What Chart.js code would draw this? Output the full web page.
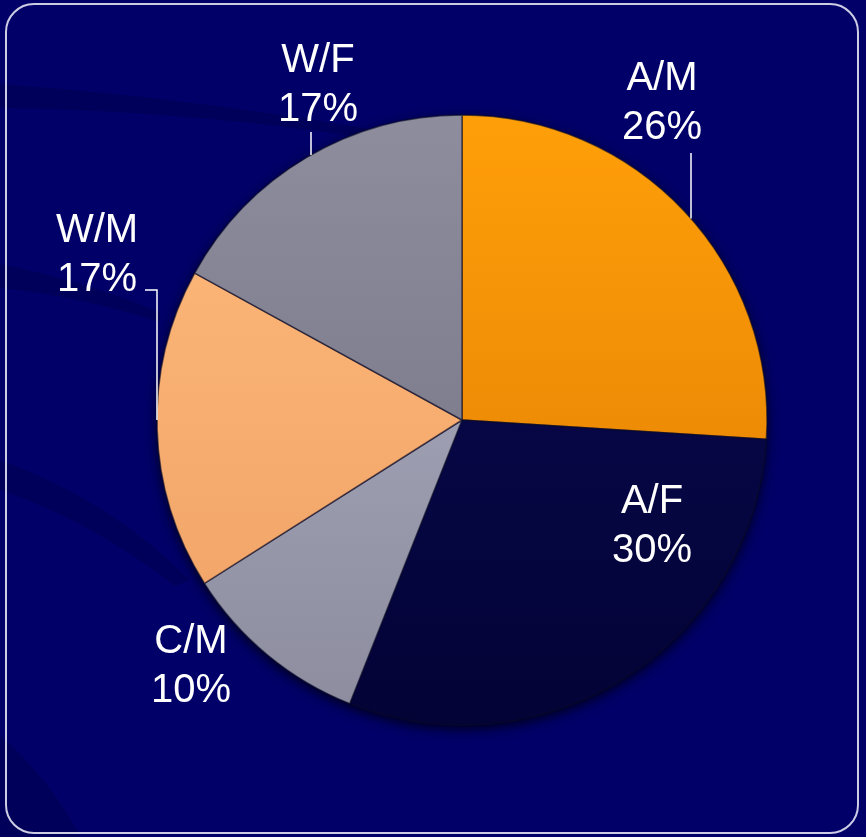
<!DOCTYPE html>
<html>
<head>
    <title>Pie</title>
    <script src="https://cdn.jsdelivr.net/npm/chart.js"></script>
    <style>
        html, body { margin: 0; padding: 0; background: #000066; }
        #pieChart { display: block; }
    </style>
</head>
<body>
    <canvas id="pieChart" width="866" height="837"></canvas>

    <script>
        // data
        const categories = ['A/M', 'A/F', 'C/M', 'W/M', 'W/F'];
        const shares = [26, 30, 10, 17, 17];
        const pctLabels = ['26%', '30%', '10%', '17%', '17%'];

        // slice colours, top and bottom of gradient
        const topColors = ['#ff9f08', '#0a0a55', '#b0b0c6', '#ffbb7c', '#8d8d9e'];
        const bottomColors = ['#de7a04', '#030336', '#8c8c9e', '#efa064', '#70707f'];

        // label placement relative to pie centre (first line baseline)
        const labelPos = [
            {dx: 200, dy: -330, leader: [[229, -267]]},
            {dx: 190, dy: 93},
            {dx: -271, dy: 233},
            {dx: -365, dy: -178, leader: [[-317, -130], [-305, -130]]},
            {dx: -144, dy: -348, leader: [[-151, -288]]}
        ];

        const bgPlugin = {
            id: 'bg',
            beforeDraw(chart) {
                const ctx = chart.ctx;
                const w = chart.width, h = chart.height;
                ctx.save();
                ctx.fillStyle = '#000068';
                ctx.fillRect(0, 0, w, h);

                // faint darker swooshes on the left
                ctx.fillStyle = 'rgba(0, 0, 40, 0.22)';
                ctx.beginPath();
                ctx.moveTo(0, 84);
                ctx.quadraticCurveTo(200, 98, 420, 138);
                ctx.lineTo(420, 146);
                ctx.quadraticCurveTo(200, 110, 0, 108);
                ctx.closePath();
                ctx.fill();

                ctx.beginPath();
                ctx.moveTo(0, 264);
                ctx.quadraticCurveTo(80, 280, 160, 312);
                ctx.lineTo(160, 322);
                ctx.quadraticCurveTo(80, 296, 0, 288);
                ctx.closePath();
                ctx.fill();

                ctx.beginPath();
                ctx.moveTo(0, 460);
                ctx.quadraticCurveTo(110, 500, 190, 580);
                ctx.lineTo(175, 586);
                ctx.quadraticCurveTo(90, 520, 0, 490);
                ctx.closePath();
                ctx.fill();

                ctx.beginPath();
                ctx.moveTo(0, 735);
                ctx.quadraticCurveTo(55, 785, 80, 837);
                ctx.lineTo(0, 837);
                ctx.closePath();
                ctx.fill();

                // rounded frame
                ctx.strokeStyle = 'rgba(215, 215, 235, 0.95)';
                ctx.lineWidth = 2;
                ctx.beginPath();
                ctx.roundRect(6, 4, 852, 829, 28);
                ctx.stroke();
                ctx.restore();
            },
            beforeDatasetsDraw(chart) {
                const arc = chart.getDatasetMeta(0).data[0];
                if (!arc) return;
                const ctx = chart.ctx;
                ctx.save();
                ctx.shadowColor = 'rgba(0, 0, 20, 0.9)';
                ctx.shadowBlur = 12;
                ctx.shadowOffsetY = 4;
                ctx.fillStyle = '#02022a';
                ctx.beginPath();
                ctx.arc(arc.x, arc.y, arc.outerRadius, 0, Math.PI * 2);
                ctx.fill();
                ctx.restore();
            }
        };

        const labelPlugin = {
            id: 'sliceLabels',
            afterDatasetsDraw(chart) {
                const meta = chart.getDatasetMeta(0);
                const ctx = chart.ctx;
                const cx = meta.data[0].x, cy = meta.data[0].y;
                const r = meta.data[0].outerRadius;
                ctx.save();
                ctx.fillStyle = '#ffffff';
                ctx.strokeStyle = '#ffffff';
                ctx.lineWidth = 1.5;
                ctx.font = '40px "Liberation Sans", Arial, sans-serif';
                ctx.textAlign = 'center';
                ctx.textBaseline = 'alphabetic';
                categories.forEach((cat, i) => {
                    const p = labelPos[i];
                    ctx.fillText(cat, cx + p.dx, cy + p.dy);
                    ctx.fillText(pctLabels[i], cx + p.dx, cy + p.dy + 49);
                    if (p.leader) {
                        ctx.beginPath();
                        ctx.moveTo(cx + p.leader[0][0], cy + p.leader[0][1]);
                        p.leader.slice(1).forEach(pt => ctx.lineTo(cx + pt[0], cy + pt[1]));
                        // drop straight down to the pie edge
                        const last = p.leader[p.leader.length - 1];
                        const edgeY = -Math.sqrt(Math.max(r * r - last[0] * last[0], 0));
                        ctx.lineTo(cx + last[0], cy + edgeY);
                        ctx.stroke();
                    }
                });
                ctx.restore();
            }
        };

        function sliceFill(context) {
            const i = context.dataIndex;
            const arc = context.chart.getDatasetMeta(0).data[0];
            if (!arc || !arc.outerRadius) return topColors[i];
            const g = context.chart.ctx.createLinearGradient(0, arc.y - arc.outerRadius, 0, arc.y + arc.outerRadius);
            g.addColorStop(0, topColors[i]);
            g.addColorStop(1, bottomColors[i]);
            return g;
        }

        const ctx = document.getElementById('pieChart').getContext('2d');
        const pieChart = new Chart(ctx, {
            type: 'pie',
            data: {
                labels: categories,
                datasets: [{
                    data: shares,
                    backgroundColor: sliceFill,
                    borderColor: 'rgba(10, 10, 40, 0.6)',
                    borderWidth: 1.5
                }]
            },
            options: {
                responsive: false,
                animation: false,
                radius: 305,
                layout: {
                    padding: {left: 58, right: 0, top: 3, bottom: 0}
                },
                plugins: {
                    legend: { display: false },
                    tooltip: { enabled: false }
                }
            },
            plugins: [bgPlugin, labelPlugin]
        });
        // redraw once so the gradients use the final geometry
        pieChart.update();
    </script>
</body>
</html>
